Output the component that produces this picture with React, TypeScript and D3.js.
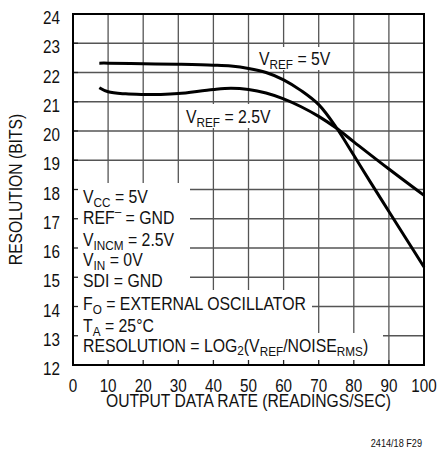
import React from "react";
import * as d3 from "d3";

const xTicks = [0, 10, 20, 30, 40, 50, 60, 70, 80, 90, 100];
const yTicks = [12, 13, 14, 15, 16, 17, 18, 19, 20, 21, 22, 23, 24];

const rate5 = [7.5, 10, 20, 30, 40, 45, 50, 55, 60, 65, 70, 75, 80, 85, 90, 95, 100];
const res5 = [22.32, 22.32, 22.3, 22.28, 22.25, 22.22, 22.14, 22.0, 21.75, 21.38, 20.9, 20.12, 19.17, 18.2, 17.25, 16.3, 15.35];

const rate25 = [7.5, 10, 15, 20, 25, 30, 40, 45, 50, 55, 60, 65, 70, 75, 80, 90, 100];
const res25 = [21.48, 21.34, 21.27, 21.25, 21.25, 21.28, 21.42, 21.46, 21.42, 21.3, 21.1, 20.83, 20.5, 20.1, 19.63, 18.7, 17.8];

const W = 438;
const H = 449;
const L = 73, R = 424, T = 14, B = 365;
const FONT = "'Liberation Sans', Arial, sans-serif";
const SX = 0.87;
const FS = 17.5;
const FA = 18.2;
const SUB = 13.5;

type TProps = { x: number; y: number; anchor?: string; size?: number; rotate?: number; children: React.ReactNode };
function Txt({ x, y, anchor = "start", size = FS, rotate = 0, children }: TProps) {
  return (
    <g transform={`translate(${x},${y}) rotate(${rotate}) scale(${SX},1)`}>
      <text x={0} y={0} textAnchor={anchor} fontSize={size} fill="#111">{children}</text>
    </g>
  );
}

export default function App() {
  const x = d3.scaleLinear().domain([0, 100]).range([L, R]);
  const y = d3.scaleLinear().domain([12, 24]).range([B, T]);
  const line = d3
    .line<[number, number]>()
    .x((d) => x(d[0]))
    .y((d) => y(d[1]))
    .curve(d3.curveCatmullRom.alpha(0.5));
  const d5 = line(rate5.map((r, i) => [r, res5[i]] as [number, number])) || "";
  const d25 = line(rate25.map((r, i) => [r, res25[i]] as [number, number])) || "";

  const boxes = [
    [255, 47, 338, 70],
    [182, 104, 276, 128],
    [L, 183, 190, 292],
    [L, 290, 312, 334],
    [L, 333, 383, B],
  ];

  const tx = 83;

  return (
    <svg width={W} height={H} style={{ position: "absolute", left: 0, top: 0, background: "#fff" }} fontFamily={FONT}>
      <rect x={0} y={0} width={W} height={H} fill="#fff" />
      {xTicks.slice(1, -1).map((t) => (
        <line key={"gx" + t} x1={x(t)} x2={x(t)} y1={T} y2={B} stroke="#555" strokeWidth={1.3} />
      ))}
      {yTicks.slice(1, -1).map((t) => (
        <line key={"gy" + t} x1={L} x2={R} y1={y(t)} y2={y(t)} stroke="#555" strokeWidth={1.3} />
      ))}
      {boxes.map((b, i) => (
        <rect key={"b" + i} x={b[0]} y={b[1]} width={b[2] - b[0]} height={b[3] - b[1]} fill="#fff" />
      ))}
      {xTicks.slice(1, -1).map((t) => (
        <line key={"tx" + t} x1={x(t)} x2={x(t)} y1={B} y2={B - 5} stroke="#222" strokeWidth={1.3} />
      ))}
      {yTicks.slice(1, -1).map((t) => (
        <line key={"ty" + t} x1={L} x2={L + 5} y1={y(t)} y2={y(t)} stroke="#222" strokeWidth={1.3} />
      ))}
      <rect x={L} y={T} width={R - L} height={B - T} fill="none" stroke="#000" strokeWidth={2} />
      <path d={d5} fill="none" stroke="#000" strokeWidth={3} />
      <path d={d25} fill="none" stroke="#000" strokeWidth={3} />

      {yTicks.map((t) => (
        <Txt key={"ly" + t} x={60} y={y(t) + 10} anchor="end">{t}</Txt>
      ))}
      {xTicks.map((t) => (
        <Txt key={"lx" + t} x={x(t)} y={392} anchor="middle">{t}</Txt>
      ))}
      <Txt x={(L + R) / 2} y={407} anchor="middle" size={18}>OUTPUT DATA RATE (READINGS/SEC)</Txt>
      <Txt x={22} y={(T + B) / 2} anchor="middle" rotate={-90} size={18}>RESOLUTION (BITS)</Txt>
      <Txt x={422} y={447} anchor="end" size={10.5}>2414/18 F29</Txt>

      <Txt x={259} y={65} size={FA}>
        V<tspan dy={4} fontSize={SUB}>REF</tspan><tspan dy={-4}> = 5V</tspan>
      </Txt>
      <Txt x={186} y={123} size={FA}>
        V<tspan dy={4} fontSize={SUB}>REF</tspan><tspan dy={-4}> = 2.5V</tspan>
      </Txt>

      <Txt x={tx} y={203} size={FA}>
        V<tspan dy={4} fontSize={SUB}>CC</tspan><tspan dy={-4}> = 5V</tspan>
      </Txt>
      <Txt x={tx} y={224} size={FA}>
        REF<tspan dy={-8} fontSize={SUB}>–</tspan><tspan dy={8}> = GND</tspan>
      </Txt>
      <Txt x={tx} y={246} size={FA}>
        V<tspan dy={4} fontSize={SUB}>INCM</tspan><tspan dy={-4}> = 2.5V</tspan>
      </Txt>
      <Txt x={tx} y={266} size={FA}>
        V<tspan dy={4} fontSize={SUB}>IN</tspan><tspan dy={-4}> = 0V</tspan>
      </Txt>
      <Txt x={tx} y={287} size={FA}>SDI = GND</Txt>
      <Txt x={tx} y={310} size={FA}>
        F<tspan dy={4} fontSize={SUB}>O</tspan><tspan dy={-4}> = EXTERNAL OSCILLATOR</tspan>
      </Txt>
      <Txt x={tx} y={332} size={FA}>
        T<tspan dy={4} fontSize={SUB}>A</tspan><tspan dy={-4}> = 25°C</tspan>
      </Txt>
      <Txt x={tx} y={352} size={FA}>
        RESOLUTION = LOG<tspan dy={3} fontSize={SUB}>2</tspan><tspan dy={-3}>(V</tspan><tspan dy={4} fontSize={SUB}>REF</tspan><tspan dy={-4}>/NOISE</tspan><tspan dy={4} fontSize={SUB}>RMS</tspan><tspan dy={-4}>)</tspan>
      </Txt>
    </svg>
  );
}
